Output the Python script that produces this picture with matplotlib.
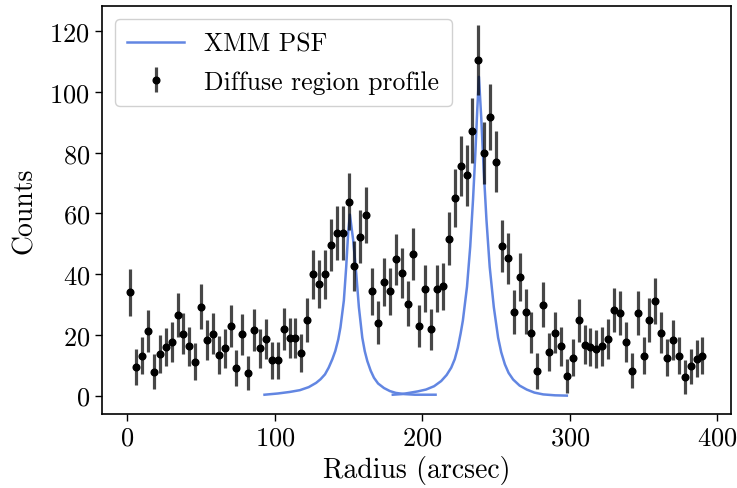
import matplotlib
matplotlib.use("Agg")
import matplotlib.pyplot as plt
from matplotlib.ticker import MultipleLocator

plt.rcParams["font.family"] = "serif"
plt.rcParams["font.serif"] = ["cmr10", "DejaVu Serif"]
plt.rcParams["mathtext.fontset"] = "cm"
plt.rcParams["axes.formatter.use_mathtext"] = True

# radial bins (arcsec)
radius = [
    2, 6, 10, 14, 18, 22, 26, 30, 34, 38, 42, 46, 50, 54, 58, 62, 66, 70, 74, 78,
    82, 86, 90, 94, 98, 102, 106, 110, 114, 118, 122, 126, 130, 134, 138, 142, 146, 150, 154, 158,
    162, 166, 170, 174, 178, 182, 186, 190, 194, 198, 202, 206, 210, 214, 218, 222, 226, 230, 234, 238,
    242, 246, 250, 254, 258, 262, 266, 270, 274, 278, 282, 286, 290, 294, 298, 302, 306, 310, 314, 318,
    322, 326, 330, 334, 338, 342, 346, 350, 354, 358, 362, 366, 370, 374, 378, 382, 386, 390,
]
counts = [
    34.0, 9.4, 13.2, 21.3, 7.9, 13.7, 16.0, 17.6, 26.6, 20.4, 16.3, 11.2, 29.2, 18.3, 20.4, 13.4, 15.6, 22.9, 9.1, 20.2,
    7.4, 21.6, 15.6, 18.7, 11.6, 11.6, 21.9, 19.0, 19.0, 14.1, 24.9, 39.9, 36.8, 39.9, 49.6, 53.5, 53.5, 63.9, 42.6, 52.4,
    59.5, 34.3, 24.0, 37.3, 34.3, 44.9, 40.4, 30.2, 46.7, 22.9, 35.2, 21.8, 35.2, 36.0, 51.7, 65.0, 75.6, 72.5, 87.3, 110.5,
    79.9, 91.7, 77.0, 49.3, 45.2, 27.5, 39.1, 27.7, 20.7, 8.1, 29.9, 14.4, 20.7, 16.3, 6.3, 12.5, 24.8, 16.8, 16.0, 15.3,
    16.3, 18.6, 28.1, 27.1, 17.6, 8.2, 27.1, 13.2, 24.9, 31.2, 20.7, 12.4, 18.3, 13.2, 6.1, 9.6, 12.1, 13.2,
]
count_err = [
    7.7, 5.9, 6.2, 6.8, 5.7, 6.2, 6.4, 6.5, 7.2, 6.7, 6.4, 6.0, 7.4, 6.6, 6.7, 6.2, 6.4, 6.9, 5.8, 6.7,
    5.7, 6.8, 6.4, 6.6, 6.0, 6.0, 6.8, 6.6, 6.6, 6.3, 7.1, 8.1, 7.9, 8.1, 8.6, 8.9, 8.9, 9.4, 8.2, 8.8,
    9.2, 7.7, 7.0, 7.9, 7.7, 8.4, 8.1, 7.4, 8.5, 6.9, 7.8, 6.8, 7.8, 7.8, 8.8, 9.5, 10.0, 9.9, 10.6, 11.6,
    10.2, 10.8, 10.1, 8.6, 8.4, 7.2, 8.0, 7.3, 6.8, 5.8, 7.4, 6.3, 6.8, 6.4, 5.6, 6.1, 7.1, 6.5, 6.4, 6.3,
    6.4, 6.6, 7.3, 7.2, 6.5, 5.8, 7.2, 6.2, 7.1, 7.5, 6.8, 6.1, 6.6, 6.2, 5.6, 5.9, 6.1, 6.2,
]

# PSF model curves
psf1_r = [93, 102, 110, 117, 123, 128, 131, 134, 136.5, 139, 141, 143, 144.5, 146.8, 148.4, 149.7, 150.9,
          153.1, 155.2, 157, 159.3, 161, 162.7, 165, 167.2, 170, 174, 178, 182, 188, 195, 209]
psf1_c = [0.3, 0.7, 1.2, 1.8, 2.8, 4.2, 5.4, 7.0, 9.2, 12.0, 14.7, 18.5, 22.5, 31.3, 42.4, 53.5, 59.6,
          51.3, 40.2, 29.1, 19.1, 14.6, 11.4, 8.2, 5.9, 4.0, 2.5, 1.5, 0.9, 0.5, 0.3, 0.3]
psf2_r = [180, 186, 191, 197, 202.5, 208, 212.8, 216.5, 219.6, 222, 224.1, 226, 227.5, 230.3, 232.5, 234.4,
          236, 237.3, 238.4, 240, 241.6, 243.5, 245.7, 248.5, 251.4, 253.5, 256, 258.5, 261.6, 266, 270.8,
          276, 282, 290, 298]
psf2_c = [0.3, 0.5, 0.9, 1.4, 2.0, 3.1, 4.8, 6.8, 9.2, 12.0, 15.8, 20.5, 24.7, 35.8, 49.1, 64.6,
          80.1, 94.5, 105.0, 91.2, 74.6, 57.9, 42.4, 29.1, 19.1, 14.3, 10.3, 7.5, 5.3, 3.3, 2.0,
          1.0, 0.4, 0.1, 0.0]

psf_color = "#6286e2"

fig = plt.figure(figsize=(7.37, 4.89), dpi=100)
ax = fig.add_axes([0.138, 0.151, 0.854, 0.834])

ax.plot(psf1_r, psf1_c, color=psf_color, lw=1.8, label="XMM PSF")
ax.plot(psf2_r, psf2_c, color=psf_color, lw=1.8)
ax.errorbar(
    radius, counts, yerr=count_err,
    fmt="o", color="black", ms=4.8, elinewidth=2.3, ecolor=(0, 0, 0, 0.72),
    capsize=0, label="Diffuse region profile",
)

ax.xaxis.set_major_locator(MultipleLocator(100))
ax.yaxis.set_major_locator(MultipleLocator(20))
ax.set_xlabel("Radius (arcsec)", fontsize=20, labelpad=4)
ax.set_ylabel("Counts", fontsize=20, labelpad=8)
ax.tick_params(labelsize=19, width=1.0, length=5)
for s in ax.spines.values():
    s.set_linewidth(1.2)

ax.legend(loc="upper left", fontsize=18.5, handlelength=2.2, borderpad=0.5,
          labelspacing=0.55, handletextpad=0.8, framealpha=0.9, edgecolor="#cccccc")

fig.savefig("out.png", dpi=100)
